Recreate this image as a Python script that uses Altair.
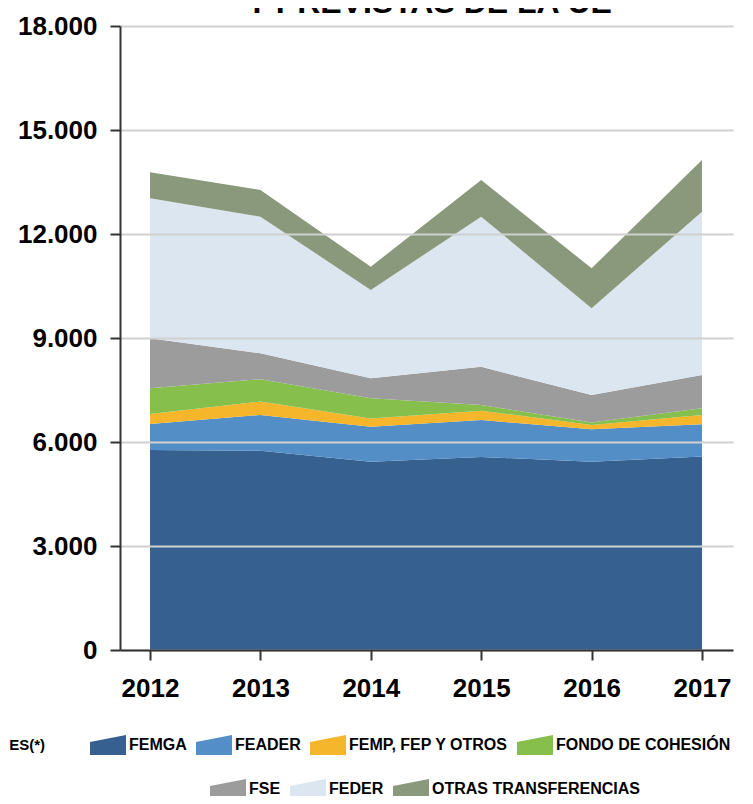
import altair as alt
import pandas as pd

# ---- data (millones de euros) ----
years = [2012, 2013, 2014, 2015, 2016, 2017]
femga = [5770, 5750, 5430, 5570, 5430, 5580]
feader = [750, 1030, 1010, 1065, 935, 930]
femp = [290, 385, 240, 270, 125, 270]
cohesion = [740, 645, 580, 165, 70, 190]
fse = [1440, 750, 580, 1100, 795, 960]
feder = [4040, 3940, 2545, 4330, 2500, 4715]
otras = [750, 770, 670, 1060, 1155, 1490]

names_row1 = ["FEMGA", "FEADER", "FEMP, FEP Y OTROS", "FONDO DE COHESIÓN"]
names_row2 = ["FSE", "FEDER", "OTRAS TRANSFERENCIAS"]
colors_row1 = ["#356090", "#548EC7", "#F6B62C", "#86BF4B"]
colors_row2 = ["#9C9C9C", "#DCE6F0", "#8A987C"]
y_ticks = [0, 3000, 6000, 9000, 12000, 15000, 18000]
title_text = "Y PREVISTAS DE LA UE"
legend_note = "ES(*)"

all_values = [femga, feader, femp, cohesion, fse, feder, otras]
all_names = names_row1 + names_row2

rows = []
for i, (name, vals) in enumerate(zip(all_names, all_values)):
    for yr, v in zip(years, vals):
        rows.append({"year": yr, "serie": name, "value": v, "order": i,
                     "grupo": 1 if name in names_row1 else 2})
df = pd.DataFrame(rows)

FONT = "Liberation Sans, Arial, sans-serif"
SWATCH = "M-1,0.555L-1,-0.165L1,-0.555L1,0.555Z"

x_enc = alt.X("year:Q",
              scale=alt.Scale(domain=[2011.728, 2017.281], nice=False, zero=False),
              axis=alt.Axis(values=years, format="d", grid=False, title=None,
                            domainColor="#333333", domainWidth=2,
                            tickColor="#333333", tickWidth=2, tickSize=10,
                            labelFont=FONT, labelFontSize=26, labelFontWeight="bold",
                            labelColor="black", labelPadding=15, labelFlush=False,
                            zindex=1))
y_enc = alt.Y("y0:Q",
              scale=alt.Scale(domain=[0, 18000], nice=False),
              axis=alt.Axis(values=y_ticks, title=None,
                            labelExpr="replace(format(datum.value, ','), ',', '.')",
                            gridColor="#D0D0D0", gridWidth=2,
                            domainColor="#333333", domainWidth=2,
                            tickColor="#333333", tickWidth=2, tickSize=10,
                            labelFont=FONT, labelFontSize=26, labelFontWeight="bold",
                            labelColor="black", labelPadding=13, zindex=1))


def legend(x, y):
    return alt.Legend(orient="none", legendX=x, legendY=y, direction="horizontal",
                      title=None, symbolType=SWATCH, symbolSize=1296,
                      symbolStrokeWidth=0, symbolOpacity=1,
                      labelFont=FONT, labelFontSize=16, labelFontWeight="bold",
                      labelColor="black", labelOffset=3, columnPadding=9,
                      labelLimit=300, padding=0)


base = alt.Chart(df).transform_stack(
    stack="value", groupby=["year"], as_=["y0", "y1"],
    sort=[alt.SortField("order", order="ascending")])

area1 = base.transform_filter(alt.datum.grupo == 1).mark_area(opacity=1).encode(
    x=x_enc, y=y_enc, y2="y1:Q",
    color=alt.Color("serie:N", scale=alt.Scale(domain=names_row1, range=colors_row1),
                    legend=legend(-30, 701)),
)
area2 = base.transform_filter(alt.datum.grupo == 2).mark_area(opacity=1).encode(
    x=x_enc, y=y_enc, y2="y1:Q",
    color=alt.Color("serie:N", scale=alt.Scale(domain=names_row2, range=colors_row2),
                    legend=legend(90, 745)),
)

title_mark = alt.Chart(alt.Data(values=[{}])).mark_text(
    text=title_text, font=FONT, fontSize=32, fontWeight="bold", color="black",
    align="center", baseline="alphabetic").encode(x=alt.value(309), y=alt.value(-13))

note_mark = alt.Chart(alt.Data(values=[{}])).mark_text(
    text=legend_note, font=FONT, fontSize=15, fontWeight="bold", color="black",
    align="right", baseline="middle").encode(x=alt.value(-75), y=alt.value(719))

chart = alt.layer(area1, area2, title_mark, note_mark).resolve_scale(
    color="independent"
).properties(
    width=613, height=624,
    padding={"left": 112, "top": 18, "right": 12, "bottom": 146},
    autosize=alt.AutoSizeParams(type="none"),
).configure_view(stroke=None)

chart.save("out.html", embed_options={"renderer": "svg", "actions": False})
